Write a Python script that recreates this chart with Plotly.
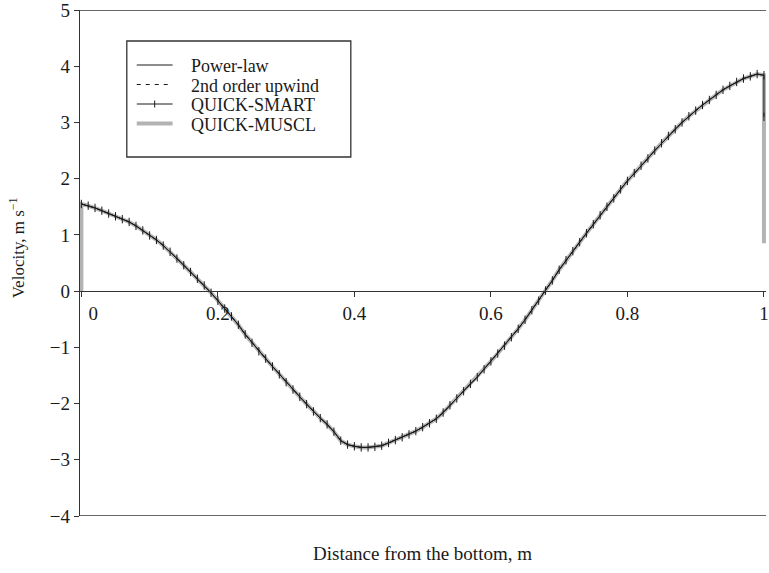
import plotly.graph_objects as go

# Distance from the bottom wall (m) and velocity profile (m/s)
distance = [
    0.00, 0.01, 0.02, 0.03, 0.04, 0.05, 0.06, 0.07, 0.08, 0.09,
    0.10, 0.11, 0.12, 0.13, 0.14, 0.15, 0.16, 0.17, 0.18, 0.19,
    0.20, 0.21, 0.22, 0.23, 0.24, 0.25, 0.26, 0.27, 0.28, 0.29,
    0.30, 0.31, 0.32, 0.33, 0.34, 0.35, 0.36, 0.37, 0.38, 0.39,
    0.40, 0.41, 0.42, 0.43, 0.44, 0.45, 0.46, 0.47, 0.48, 0.49,
    0.50, 0.51, 0.52, 0.53, 0.54, 0.55, 0.56, 0.57, 0.58, 0.59,
    0.60, 0.61, 0.62, 0.63, 0.64, 0.65, 0.66, 0.67, 0.68, 0.69,
    0.70, 0.71, 0.72, 0.73, 0.74, 0.75, 0.76, 0.77, 0.78, 0.79,
    0.80, 0.81, 0.82, 0.83, 0.84, 0.85, 0.86, 0.87, 0.88, 0.89,
    0.90, 0.91, 0.92, 0.93, 0.94, 0.95, 0.96, 0.97, 0.98, 0.99,
    1.00,
]
velocity = [
    1.55, 1.52, 1.48, 1.43, 1.38, 1.33, 1.28, 1.23, 1.16, 1.08,
    0.99, 0.91, 0.81, 0.70, 0.58, 0.46, 0.34, 0.22, 0.10, -0.03,
    -0.17, -0.31, -0.45, -0.60, -0.77, -0.92, -1.07, -1.20, -1.34, -1.48,
    -1.62, -1.75, -1.88, -2.01, -2.14, -2.26, -2.37, -2.50, -2.66, -2.73,
    -2.76, -2.78, -2.78, -2.77, -2.75, -2.70, -2.65, -2.60, -2.55, -2.49,
    -2.42, -2.35, -2.27, -2.16, -2.03, -1.91, -1.78, -1.65, -1.53, -1.39,
    -1.25, -1.11, -0.97, -0.82, -0.67, -0.51, -0.34, -0.17, 0.01, 0.19,
    0.38, 0.55, 0.71, 0.87, 1.03, 1.19, 1.35, 1.50, 1.65, 1.81,
    1.96, 2.10, 2.23, 2.36, 2.50, 2.63, 2.76, 2.88, 3.00, 3.11,
    3.21, 3.31, 3.40, 3.49, 3.58, 3.65, 3.72, 3.78, 3.82, 3.86,
    3.84,
]

# Wall values where the schemes differ
muscl_bottom_wall = 0.0
muscl_top_wall = 0.85
smart_top_wall = 3.10

series_names = ["Power-law", "2nd order upwind", "QUICK-SMART", "QUICK-MUSCL"]
x_tick_values = [0, 0.2, 0.4, 0.6, 0.8, 1]
x_tick_labels = ["\u00a0\u00a0\u00a0\u00a0\u00a00", "0.2", "0.4", "0.6", "0.8", "1"]
y_tick_values = [-4, -3, -2, -1, 0, 1, 2, 3, 4, 5]

FONT = "Liberation Serif, Times New Roman, serif"
INK = "#1a1a1a"
GREY = "#b3b3b3"

W, H = 769, 573
M_L, M_R, M_T, M_B = 80, 0, 10, 57
PW, PH = W - M_L - M_R, H - M_T - M_B


def px_x(px):
    return (px - M_L) / PW


def px_y(py):
    return (M_T + PH - py) / PH


fig = go.Figure()

# QUICK-MUSCL (thick grey) underneath
fig.add_trace(go.Scatter(
    x=[0.0] + distance + [1.0],
    y=[muscl_bottom_wall] + velocity + [muscl_top_wall],
    mode="lines", name=series_names[3],
    line=dict(color=GREY, width=4), showlegend=False,
))
# Power-law
fig.add_trace(go.Scatter(
    x=distance, y=velocity, mode="lines", name=series_names[0],
    line=dict(color=INK, width=1), showlegend=False,
))
# 2nd order upwind
fig.add_trace(go.Scatter(
    x=distance, y=velocity, mode="lines", name=series_names[1],
    line=dict(color=INK, width=1, dash="4px,4px"), showlegend=False,
))
# QUICK-SMART with tick markers
fig.add_trace(go.Scatter(
    x=distance + [1.0], y=velocity + [smart_top_wall],
    mode="lines+markers", name=series_names[2],
    line=dict(color=INK, width=1),
    marker=dict(symbol="line-ns", size=6, line=dict(color=INK, width=1)),
    showlegend=False,
))

shapes = []
# Frame lines at top and bottom of the value range
for yv in (5, -4):
    shapes.append(dict(type="line", xref="paper", yref="y", x0=0, x1=1, y0=yv, y1=yv,
                       line=dict(color="#333333", width=1.3), layer="above"))

# Legend box and samples
shapes.append(dict(type="rect", xref="paper", yref="paper",
                   x0=px_x(127), x1=px_x(352), y0=px_y(157), y1=px_y(41),
                   line=dict(color="#333333", width=1.3), fillcolor="white", layer="above"))
rows = [65, 84.5, 104, 123.5]
sx0, sx1 = px_x(137), px_x(173)
shapes.append(dict(type="line", xref="paper", yref="paper", x0=sx0, x1=sx1,
                   y0=px_y(rows[0]), y1=px_y(rows[0]), line=dict(color=INK, width=1), layer="above"))
shapes.append(dict(type="line", xref="paper", yref="paper", x0=sx0, x1=sx1,
                   y0=px_y(rows[1]), y1=px_y(rows[1]),
                   line=dict(color=INK, width=1.2, dash="4px,5px"), layer="above"))
shapes.append(dict(type="line", xref="paper", yref="paper", x0=sx0, x1=sx1,
                   y0=px_y(rows[2]), y1=px_y(rows[2]), line=dict(color=INK, width=1), layer="above"))
shapes.append(dict(type="line", xref="paper", yref="paper", x0=px_x(155), x1=px_x(155),
                   y0=px_y(rows[2] - 3.5), y1=px_y(rows[2] + 3.5),
                   line=dict(color=INK, width=1), layer="above"))
shapes.append(dict(type="line", xref="paper", yref="paper", x0=sx0, x1=sx1,
                   y0=px_y(rows[3]), y1=px_y(rows[3]), line=dict(color=GREY, width=4), layer="above"))

annotations = []
for name, ry in zip(series_names, rows):
    annotations.append(dict(text=name, xref="paper", yref="paper", x=px_x(189), y=px_y(ry + 1),
                            xanchor="left", yanchor="middle", showarrow=False,
                            font=dict(family=FONT, size=18, color=INK)))

# Axis titles
annotations.append(dict(text="Velocity, m s<sup>\u22121</sup>", xref="paper", yref="paper",
                        x=px_x(17), y=px_y(248), xanchor="center", yanchor="middle",
                        textangle=-90, showarrow=False,
                        font=dict(family=FONT, size=17, color=INK)))
annotations.append(dict(text="Distance from the bottom, m", xref="paper", yref="paper",
                        x=px_x(424), y=px_y(553), xanchor="center", yanchor="middle",
                        showarrow=False, font=dict(family=FONT, size=19, color=INK)))

fig.update_layout(
    width=W, height=H,
    margin=dict(l=M_L, r=M_R, t=M_T, b=M_B, pad=0),
    paper_bgcolor="white", plot_bgcolor="white",
    shapes=shapes, annotations=annotations,
    xaxis=dict(
        range=[-0.002, 1.003], anchor="free", position=4 / 9,
        showline=True, linecolor="#333333", linewidth=1.3,
        showgrid=False, zeroline=False,
        tickmode="array", tickvals=x_tick_values, ticktext=x_tick_labels,
        ticks="outside", ticklen=5, tickwidth=1.2, tickcolor="#333333",
        ticklabeloverflow="allow",
        tickfont=dict(family=FONT, size=19, color=INK),
    ),
    yaxis=dict(
        range=[-4, 5], showline=True, linecolor="#333333", linewidth=1.3,
        showgrid=False, zeroline=False,
        tickmode="array", tickvals=y_tick_values,
        ticks="outside", ticklen=5, tickwidth=1.2, tickcolor="#333333",
        ticklabeloverflow="allow",
        tickfont=dict(family=FONT, size=19, color=INK),
    ),
)

fig.write_html("out.html")
